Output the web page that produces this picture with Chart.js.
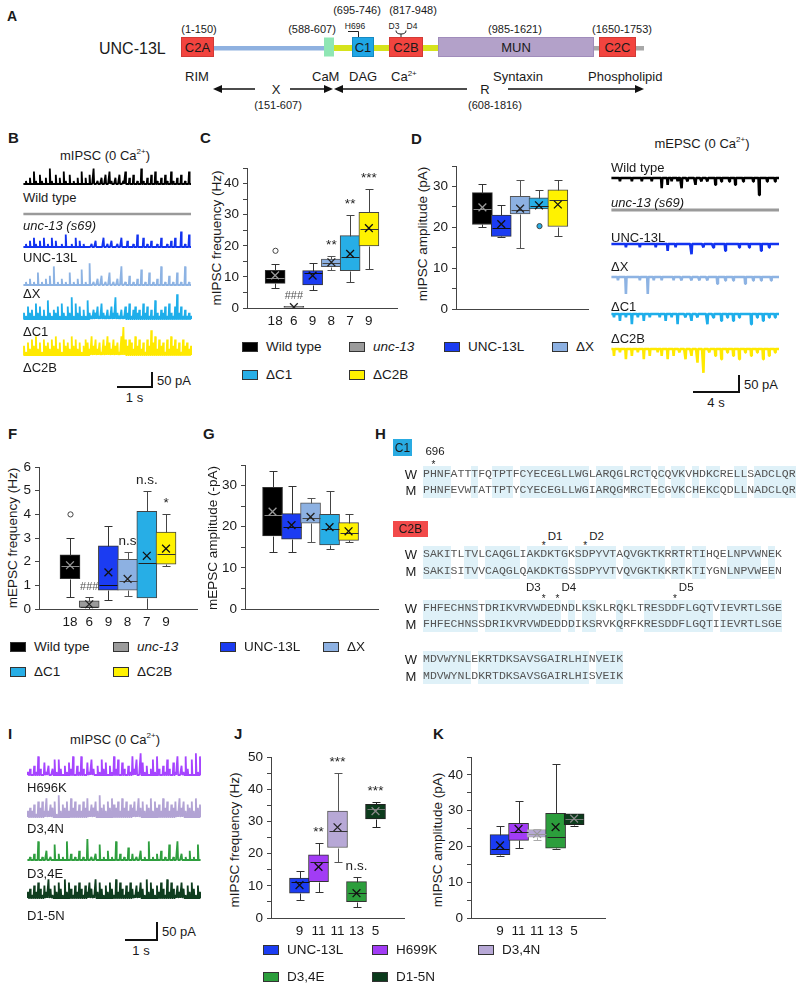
<!DOCTYPE html>
<html>
<head>
<meta charset="utf-8">
<script src="https://cdn.jsdelivr.net/npm/chart.js@4.4.0/dist/chart.umd.min.js"></script>
<style>
  body { margin: 0; width: 800px; height: 988px; position: relative; background: #fff; overflow: hidden;
         font-family: "Liberation Sans", Arial, sans-serif; color: #1a1a1a; }
  .t { position: absolute; white-space: nowrap; line-height: 1; }
  .r { position: absolute; box-sizing: border-box; }
  canvas { position: absolute; }
  .seq { font-family: "Liberation Mono", "DejaVu Sans Mono", monospace; font-size: 11.5px; color: #555; }
</style>
</head>
<body>
<svg width="800" height="115" style="position:absolute;left:0;top:0" font-family="Liberation Sans, Arial, sans-serif" fill="#1a1a1a">
  <text x="7" y="21" font-size="14" font-weight="bold">A</text>
  <text x="99" y="54" font-size="16">UNC-13L</text>
  <rect x="213" y="46" width="111" height="4.5" fill="#8fb1e0"/>
  <rect x="334" y="45" width="104" height="6" fill="#d6e31c"/>
  <rect x="593" y="46" width="51" height="4.5" fill="#a8a8a8"/>
  <rect x="181.5" y="37.5" width="32" height="19" fill="#f2443f" stroke="#d23a36"/>
  <rect x="324" y="37.5" width="10" height="19" fill="#8fe6b4"/>
  <rect x="352.5" y="37.5" width="21" height="19" fill="#1fa6e6" stroke="#168ac2"/>
  <rect x="389.5" y="37.5" width="33" height="19" fill="#f2443f" stroke="#d23a36"/>
  <rect x="438.5" y="37.5" width="155" height="19" fill="#b3a1c9" stroke="#a08cbb"/>
  <rect x="599.5" y="37.5" width="36" height="19" fill="#f2443f" stroke="#d23a36"/>
  <g font-size="13" text-anchor="middle">
    <text x="197.5" y="52">C2A</text><text x="363" y="52">C1</text><text x="406" y="52">C2B</text>
    <text x="516" y="52">MUN</text><text x="617.5" y="52">C2C</text>
  </g>
  <g font-size="11" text-anchor="middle">
    <text x="199" y="33">(1-150)</text><text x="312" y="33">(588-607)</text>
    <text x="357" y="14">(695-746)</text><text x="413" y="14">(817-948)</text>
    <text x="515" y="33">(985-1621)</text><text x="622" y="33">(1650-1753)</text>
    <text x="278" y="109">(151-607)</text><text x="495" y="109">(608-1816)</text>
  </g>
  <g font-size="8.5" text-anchor="middle">
    <text x="355" y="29">H696</text><text x="394" y="29">D3</text><text x="412" y="29">D4</text>
  </g>
  <g fill="none" stroke="#222" stroke-width="1">
    <path d="M348 31.5 H358.5 V37"/>
    <path d="M396 30.5 Q396 34 401 34 Q406 34 406 30.5 M401 34 V37"/>
  </g>
  <g font-size="13">
    <text x="185" y="81">RIM</text><text x="312" y="81">CaM</text><text x="349" y="81">DAG</text>
    <text x="391" y="81">Ca<tspan font-size="8" dy="-5">2+</tspan></text>
    <text x="493" y="81">Syntaxin</text><text x="588" y="81">Phospholipid</text>
  </g>
  <g font-size="13" text-anchor="middle">
    <text x="276" y="94">X</text><text x="485" y="94">R</text>
  </g>
  <g stroke="#111" stroke-width="1.6" fill="#111">
    <line x1="255" y1="89" x2="220" y2="89"/><path d="M213 89 L222 85 L222 93 Z" stroke="none"/>
    <line x1="290" y1="89" x2="326" y2="89"/><path d="M333 89 L324 85 L324 93 Z" stroke="none"/>
    <line x1="467" y1="89" x2="341" y2="89"/><path d="M334 89 L343 85 L343 93 Z" stroke="none"/>
    <line x1="508" y1="89" x2="637" y2="89"/><path d="M644 89 L635 85 L635 93 Z" stroke="none"/>
  </g>
</svg>
<script>
const FONT = '"Liberation Sans", Arial, sans-serif';
Chart.defaults.font.family = FONT;

// ---- colours of the genotypes ----
const COL = {
    wt: '#000000', unc: '#9b9b9b', l: '#1b3cf2', dx: '#8db1e2', dc1: '#27aee6', dc2b: '#fff200',
    h: '#a23cf5', n34: '#b7a8d6', e34: '#2c9e3c', n15: '#0c3b1c'
};

// ---- C: mIPSC frequency (Hz) ----
const nC = ['18', '6', '9', '8', '7', '9'];
const minC = [6.3, 0, 5.9, 12.1, 8.4, 12.5];
const q1C = [7.9, 0, 7.4, 13.3, 12.0, 20.0];
const medC = [9.6, 0.1, 11.4, 14.5, 16.4, 25.5];
const q3C = [12.1, 0.5, 12.0, 15.7, 23.3, 30.8];
const maxC = [14.3, 0.5, 14.4, 16.7, 30.0, 38.2];
const meanC = [10.5, 0.3, 10.4, 14.7, 17.4, 25.7];
const outC = [[18.4], [], [], [], [], []];
const sigC = ['', '###', '', '**', '**', '***'];

// ---- D: mIPSC amplitude (pA) ----
const nD = ['18', '9', '8', '7', '9'];
const minD = [20.2, 17.6, 15.0, 24.5, 18.0];
const q1D = [20.7, 17.8, 23.3, 24.5, 20.2];
const medD = [24.6, 19.8, 24.3, 25.3, 26.7];
const q3D = [28.5, 23.0, 27.6, 27.2, 29.2];
const maxD = [30.7, 25.5, 31.5, 29.2, 31.5];
const meanD = [24.9, 20.8, 24.6, 25.4, 25.6];
const outD = [[], [], [], [20.3], []];

// ---- F: mEPSC frequency (Hz) ----
const nF = ['18', '6', '9', '8', '7', '9'];
const minF = [0.5, 0, 0.4, 0.53, 0, 1.8];
const q1F = [1.28, 0.07, 0.8, 0.8, 0.47, 1.9];
const medF = [1.8, 0.1, 1.02, 1.18, 1.95, 2.33];
const q3F = [2.29, 0.35, 2.67, 2.1, 4.13, 3.25];
const maxF = [3.0, 0.5, 3.52, 2.4, 5.0, 4.0];
const meanF = [1.85, 0.2, 1.55, 1.27, 2.25, 2.55];
const outF = [[4.0], [], [], [], [], []];
const sigF = ['', '###', '', 'n.s', 'n.s.', '*'];

// ---- G: mEPSC amplitude (-pA) ----
const nG = ['18', '9', '8', '7', '9'];
const minG = [13.9, 13.9, 16.3, 14.5, 16.3];
const q1G = [17.8, 17.0, 20.9, 15.6, 16.7];
const medG = [22.8, 19.9, 22.1, 19.4, 18.6];
const q3G = [29.6, 23.2, 25.8, 23.0, 21.0];
const maxG = [33.5, 30.0, 27.1, 28.7, 23.0];
const meanG = [23.7, 20.4, 22.4, 19.9, 18.9];

// ---- J: mIPSC frequency (Hz), point mutants ----
const nJ = ['9', '11', '11', '13', '5'];
const minJ = [5.7, 8.1, 17.4, 3.3, 28.4];
const q1J = [7.7, 11.3, 21.9, 5.1, 30.8];
const medJ = [11.3, 17.5, 27.0, 7.9, 34.0];
const q3J = [12.4, 19.6, 33.2, 11.3, 35.3];
const maxJ = [14.6, 23.4, 45.1, 12.6, 36.0];
const meanJ = [10.2, 15.9, 28.2, 7.7, 33.2];
const sigJ = ['', '**', '***', 'n.s.', '***'];

// ---- K: mIPSC amplitude (pA), point mutants ----
const nK = ['9', '11', '11', '13', '5'];
const minK = [17.4, 19.7, 21.9, 19.3, 25.8];
const q1K = [17.7, 21.7, 22.6, 19.5, 26.1];
const medK = [19.3, 24.0, 23.5, 22.6, 27.8];
const q3K = [23.3, 26.5, 24.7, 29.3, 29.1];
const maxK = [25.8, 32.8, 25.0, 43.1, 29.1];
const meanK = [20.3, 24.9, 23.5, 25.4, 27.8];

// ---- traces: one digit per event = amplitude in 10 pA steps ----
const trWT = '0102041031020510302041030102040203050102030410203014020301051020304102031041020301040';
const trUnc = '0000000000000000000000000000000000000000000000000000000000000000000000000000000000000';
const trL = '0102031020301030200104001030201000102000301020010300200104003010200103001020300501040';
const trDX = '0102010401020306010201040102050107010203010401020601030102050104010206010301040106010';
const trDC1 = '2142315241316213241521427152413162132415213142721314251342315241316213241521482413121';
const trDC2B = '3142536241534253624153426352413542635241536425341695354263524153846253415263524153423';

const eWT = '0000100000100001000010000300201001030010002001001000200100010020001000010050001000100';
const eUnc = '0000000000000000000000000000000000000000000000000000000000000000000000000000000000000';
const eL = '0000000100000010000000100000200010000000300000100001000002000000100001000002000100000';
const eDX = '0001000500000010005001000100000100010000100010001000020001000100000200010001000010000';
const eDC1 = '0100200100300100200100001002001003000100200100003001000200100200100000300100200100100';
const eDC2B = '0200100300200100300200010200300200100300200400700100200300100200300100200100300200100';

const iH = '1203162041302515203142603162041520315240316250420316250741302516203152041603162050716';
const iN34 = '2324153526243517243526352425362435273425364352635243526352436253426352435263524352634';
const iE34 = '0102060103010502010602010301070102050103010602010402010301060102030105010602010301050';
const iN15 = '2314253142631425316253142531425316253142531625314253142531625314253162531425314253142';

// ---- sequences (panel H) ----
const c1W = 'PHNFATTTFQTPTFCYECEGLLWGLARQGLRCTQCQVKVHDKCRELLSADCLQR';
const c1M = 'PHNFEVWTATTPTYCYECEGLLWGIARQGMRCTECGVKCHEKCQDLLNADCLQR';
const c2aW = 'SAKITLTVLCAQGLIAKDKTGKSDPYVTAQVGKTKRRTRTIHQELNPVWNEK';
const c2aM = 'SAKISITVVCAQGLQAKDKTGSSDPYVTVQVGKTKKRTKTIYGNLNPVWEEN';
const c2bW = 'FHFECHNSTDRIKVRVWDEDNDLKSKLRQKLTRESDDFLGQTVIEVRTLSGE';
const c2bM = 'FHFECHNSSDRIKVRVWDEDDDIKSRVKQRFKRESDDFLGQTIIEVRTLSGE';
const c2cW = 'MDVWYNLEKRTDKSAVSGAIRLHINVEIK';
const c2cM = 'MDVWYNLDKRTDKSAVSGAIRLHISVEIK';

// ---------- helpers ----------
function txt(html, x, y, o = {}) {
    const d = document.createElement('div');
    d.className = 't' + (o.cls ? ' ' + o.cls : '');
    d.innerHTML = html;
    const ax = o.a === 'c' ? -50 : o.a === 'r' ? -100 : 0;
    d.style.left = x + 'px';
    d.style.top = y + 'px';
    if (o.s) d.style.fontSize = o.s + 'px';
    d.style.transform = o.rot ? 'translate(-50%,-50%) rotate(-90deg)' : `translate(${ax}%,-50%)`;
    if (o.css) d.style.cssText += o.css;
    document.body.appendChild(d);
}

function rect(x, y, w, h, css) {
    const d = document.createElement('div');
    d.className = 'r';
    d.style.cssText += `left:${x}px;top:${y}px;width:${w}px;height:${h}px;` + css;
    document.body.appendChild(d);
}

function canvasAt(x, y, w, h) {
    const cv = document.createElement('canvas');
    cv.width = w;
    cv.height = h;
    cv.style.left = x + 'px';
    cv.style.top = y + 'px';
    document.body.appendChild(cv);
    return cv;
}

function scaleBar(xv, yTop, yBot, xLeft, pa, t) {
    rect(xv - 0.7, yTop, 1.4, yBot - yTop, 'background:#111');
    rect(xLeft, yBot - 0.7, xv - xLeft + 0.7, 1.4, 'background:#111');
    txt(pa, xv + 5, (yTop + yBot) / 2, { s: 13 });
    txt(t, (xLeft + xv) / 2, yBot + 10, { s: 13, a: 'c' });
}

function legendItem(x, y, label, color, italic) {
    rect(x, y - 5, 16, 10, `background:${color};border:1px solid #333`);
    txt(label, x + 24, y, { s: 13.5, css: italic ? 'font-style:italic' : '' });
}

// ---------- trace panels ----------
// every sample becomes a narrow spike that starts and ends on the baseline
function trace(x, base, w, up, down, str, color, dir, lw, pxPerPa) {
    const cv = canvasAt(x, base - up, w, up + down);
    const pts = [];
    str.split('').forEach((c, i) => {
        const v = Number(c) * 10 * dir;
        pts.push({ x: i - 0.3, y: 0 }, { x: i, y: v }, { x: i + 0.3, y: 0 });
    });
    new Chart(cv, {
        type: 'line',
        data: { datasets: [{ data: pts, borderColor: color, borderWidth: lw, pointRadius: 0, tension: 0, borderJoinStyle: 'bevel' }] },
        options: {
            responsive: false, animation: false, events: [],
            layout: { padding: 0 },
            plugins: { legend: { display: false }, tooltip: { enabled: false } },
            scales: {
                x: { type: 'linear', display: false, min: -0.5, max: str.length - 0.5 },
                y: { display: false, min: -down / pxPerPa, max: up / pxPerPa }
            }
        }
    });
}

// ---------- box plot panels ----------
const PAD_T = 12, PAD_R = 10, YW = 42, XH = 28;

function boxChart(area, o) {
    const cv = canvasAt(area.l - YW, area.t - PAD_T, area.r - area.l + YW + PAD_R, area.b - area.t + PAD_T + XH);
    const pos = o.q1.map((_, i) => i + 1);

    const extras = {
        id: 'boxExtras',
        afterDatasetDraw(chart, args) {
            if (args.index !== 0) return;
            const { ctx, scales: { x, y } } = chart;
            const px = v => Math.round(y.getPixelForValue(v)) + 0.5;
            ctx.save();
            ctx.lineWidth = 1;
            pos.forEach((p, i) => {
                const cx = Math.round(x.getPixelForValue(p)) + 0.5;
                ctx.strokeStyle = o.edge[i];
                [[o.q3[i], o.max[i]], [o.q1[i], o.min[i]]].forEach(([a, b]) => {
                    if (Math.abs(a - b) < 1e-6) return;
                    ctx.beginPath();
                    ctx.moveTo(cx, px(a));
                    ctx.lineTo(cx, px(b));
                    ctx.moveTo(cx - 4, px(b));
                    ctx.lineTo(cx + 4, px(b));
                    ctx.stroke();
                });
                ctx.strokeStyle = o.medCol[i];
                ctx.beginPath();
                ctx.moveTo(cx - 9, px(o.med[i]));
                ctx.lineTo(cx + 9, px(o.med[i]));
                ctx.stroke();
                (o.out ? o.out[i] : []).forEach(v => {
                    ctx.beginPath();
                    ctx.arc(cx, y.getPixelForValue(v), 2.6, 0, Math.PI * 2);
                    ctx.fillStyle = o.fill[i] === COL.wt ? '#fff' : o.fill[i];
                    ctx.fill();
                    ctx.strokeStyle = '#444';
                    ctx.stroke();
                });
            });
            ctx.restore();
        },
        afterDraw(chart) {
            if (!o.sig) return;
            const { ctx, scales: { x, y } } = chart;
            ctx.save();
            ctx.textAlign = 'center';
            ctx.textBaseline = 'alphabetic';
            o.sig.forEach((s, i) => {
                if (!s) return;
                const top = Math.max(o.max[i], ...(o.out ? o.out[i] : []));
                const hash = s.startsWith('#');
                ctx.fillStyle = hash ? '#555' : '#222';
                ctx.font = `${hash ? 11 : 13.5}px ${FONT}`;
                ctx.fillText(s, x.getPixelForValue(pos[i]), y.getPixelForValue(top) - 7);
            });
            ctx.restore();
        }
    };

    new Chart(cv, {
        type: 'bar',
        data: {
            datasets: [
                {
                    type: 'bar', order: 2,
                    data: pos.map((p, i) => ({ x: p, y: [o.q1[i], o.q3[i]] })),
                    backgroundColor: o.fill, borderColor: o.edge, borderWidth: 1,
                    borderSkipped: false, barThickness: 20
                },
                {
                    type: 'scatter', order: 1,
                    data: pos.map((p, i) => ({ x: p, y: o.mean[i] })),
                    pointStyle: 'crossRot', pointRadius: 5.5, borderWidth: 1.3,
                    borderColor: o.markCol, backgroundColor: o.markCol
                }
            ]
        },
        options: {
            responsive: false, animation: false, events: [],
            layout: { padding: { top: PAD_T, right: PAD_R, left: 0, bottom: 0 } },
            plugins: { legend: { display: false }, tooltip: { enabled: false } },
            scales: {
                x: {
                    type: 'linear', min: o.xMin, max: o.xMax,
                    afterFit: s => { s.height = XH; },
                    grid: { display: false, drawTicks: false },
                    border: { color: '#444', width: 1 },
                    ticks: {
                        stepSize: 1, autoSkip: false, maxRotation: 0, padding: 5, color: '#1a1a1a',
                        font: { size: 13.5, family: FONT },
                        callback: v => o.n[v - 1] ?? ''
                    }
                },
                y: {
                    min: 0, max: o.yMax,
                    afterFit: s => { s.width = YW; },
                    grid: { drawOnChartArea: false, tickLength: 4, color: '#444' },
                    border: { color: '#444', width: 1 },
                    ticks: {
                        stepSize: o.step, autoSkip: false, padding: 4, color: '#1a1a1a',
                        font: { size: 13.5, family: FONT },
                        callback: v => (Math.abs(v / o.labelStep - Math.round(v / o.labelStep)) < 1e-6 ? v : '')
                    }
                }
            }
        },
        plugins: [extras]
    });
}

// styles by genotype for the six-group panels
const fill6 = [COL.wt, COL.unc, COL.l, COL.dx, COL.dc1, COL.dc2b];
const edge6 = ['#333', '#444', '#333', '#555', '#444', '#444'];
const med6 = ['#8a8a8a', '#333', '#111', '#444', '#222', '#333'];
const mark6 = ['#9a9a9a', '#222', '#111', '#222', '#111', '#111'];
const fill5 = fill6.filter((_, i) => i !== 1);
const edge5 = edge6.filter((_, i) => i !== 1);
const med5 = med6.filter((_, i) => i !== 1);
const mark5 = mark6.filter((_, i) => i !== 1);
const fillM = [COL.l, COL.h, COL.n34, COL.e34, COL.n15];

// ---------- panel letters ----------
[['B', 8, 137], ['C', 200, 137], ['D', 411, 138], ['F', 8, 433], ['G', 203, 433], ['H', 375, 433],
 ['I', 8, 733], ['J', 234, 733], ['K', 433, 733]].forEach(([l, x, y]) => txt(l, x, y, { s: 15, css: 'font-weight:bold' }));

// ---------- B ----------
txt('mIPSC (0 Ca<sup style="font-size:8px">2+</sup>)', 105, 155, { s: 13, a: 'c' });
trace(23, 184, 169, 17, 3, trWT, '#000', 1, 1.8, 0.31);
trace(23, 214, 169, 4, 3, trUnc, '#9a9a9a', 1, 2.6, 0.31);
trace(23, 247, 169, 17, 3, trL, '#1233f0', 1, 1.8, 0.31);
trace(23, 285, 169, 25, 3, trDX, '#8db3e3', 1, 1.8, 0.31);
trace(23, 319, 169, 28, 3, trDC1, '#1eaeea', 1, 1.8, 0.31);
trace(23, 355, 169, 30, 3, trDC2B, '#ffe900', 1, 1.8, 0.31);
txt('Wild type', 23, 197, { s: 13 });
txt('unc-13 (s69)', 23, 225, { s: 13, css: 'font-style:italic' });
txt('UNC-13L', 23, 257, { s: 13 });
txt('ΔX', 23, 293, { s: 13 });
txt('ΔC1', 23, 331, { s: 13 });
txt('ΔC2B', 23, 367, { s: 13 });
scaleBar(152, 372, 387, 117, '50 pA', '1 s');

// ---------- C ----------
txt('mIPSC frequency (Hz)', 217, 238, { s: 13.5, rot: true });
boxChart({ l: 247, r: 397, t: 168.4, b: 309 }, {
    n: nC, min: minC, q1: q1C, med: medC, q3: q3C, max: maxC, mean: meanC, out: outC, sig: sigC,
    xMin: 0, xMax: 7, yMax: 45, step: 5, labelStep: 10,
    fill: fill6, edge: edge6, medCol: med6, markCol: mark6
});

// ---------- D ----------
txt('mIPSC amplitude (pA)', 423, 234, { s: 13.5, rot: true });
boxChart({ l: 456, r: 588, t: 165.5, b: 309 }, {
    n: nD, min: minD, q1: q1D, med: medD, q3: q3D, max: maxD, mean: meanD, out: outD,
    xMin: 0.1, xMax: 6.1, yMax: 35, step: 5, labelStep: 10,
    fill: fill5, edge: edge5, medCol: med5, markCol: mark5
});

// legend B-D
legendItem(242, 347, 'Wild type', COL.wt);
legendItem(349, 347, 'unc-13', COL.unc, true);
legendItem(444, 347, 'UNC-13L', COL.l);
legendItem(552, 347, 'ΔX', COL.dx);
legendItem(242, 375, 'ΔC1', COL.dc1);
legendItem(349, 375, 'ΔC2B', COL.dc2b);

// ---------- E (mEPSC traces) ----------
txt('mEPSC (0 Ca<sup style="font-size:8px">2+</sup>)', 702, 143, { s: 13, a: 'c' });
trace(611, 178, 169, 5, 20, eWT, '#000', -1, 2.6, 0.34);
trace(611, 210, 169, 5, 5, eUnc, '#9a9a9a', -1, 3.2, 0.34);
trace(611, 244, 169, 5, 12, eL, '#1233f0', -1, 2.6, 0.34);
trace(611, 277, 169, 5, 21, eDX, '#8db3e3', -1, 2.6, 0.34);
trace(611, 314, 169, 5, 14, eDC1, '#1eaeea', -1, 2.6, 0.34);
trace(611, 349, 169, 5, 26, eDC2B, '#ffe900', -1, 2.6, 0.34);
txt('Wild type', 611, 167, { s: 13 });
txt('unc-13 (s69)', 611, 202, { s: 13, css: 'font-style:italic' });
txt('UNC-13L', 611, 237, { s: 13 });
txt('ΔX', 611, 266, { s: 13 });
txt('ΔC1', 611, 306, { s: 13 });
txt('ΔC2B', 611, 338, { s: 13 });
scaleBar(739, 375, 392, 693, '50 pA', '4 s');

// ---------- F ----------
txt('mEPSC frequency (Hz)', 13, 538, { s: 13.5, rot: true });
boxChart({ l: 39, r: 197, t: 467, b: 609.5 }, {
    n: nF, min: minF, q1: q1F, med: medF, q3: q3F, max: maxF, mean: meanF, out: outF, sig: sigF,
    xMin: -0.1, xMax: 7.1, yMax: 6, step: 1, labelStep: 1,
    fill: fill6, edge: edge6, medCol: med6, markCol: mark6
});

// ---------- G ----------
txt('mEPSC amplitude (-pA)', 213, 538, { s: 13.5, rot: true });
boxChart({ l: 245, r: 378, t: 465.3, b: 610 }, {
    n: nG, min: minG, q1: q1G, med: medG, q3: q3G, max: maxG, mean: meanG,
    xMin: 0.05, xMax: 6.05, yMax: 35, step: 5, labelStep: 10,
    fill: fill5, edge: edge5, medCol: med5, markCol: mark5
});

// legend F-G
legendItem(10, 647, 'Wild type', COL.wt);
legendItem(113, 647, 'unc-13', COL.unc, true);
legendItem(220, 647, 'UNC-13L', COL.l);
legendItem(323, 647, 'ΔX', COL.dx);
legendItem(10, 672, 'ΔC1', COL.dc1);
legendItem(113, 672, 'ΔC2B', COL.dc2b);

// ---------- H (sequences) ----------
const CW = 6.9, SX = 423;
function seqBlock(yW, yM, w, m) {
    for (let i = 0; i < w.length; i++) {
        if (w[i] === m[i]) rect(SX + i * CW, yW - 8, CW + 0.2, yM - yW + 16, 'background:#dff1f8');
    }
    txt('W', 411, yW, { s: 13, a: 'c' });
    txt('M', 411, yM, { s: 13, a: 'c' });
    txt(w, SX, yW, { cls: 'seq' });
    txt(m, SX, yM, { cls: 'seq' });
}
function star(idx, y) {
    txt('*', SX + (idx + 0.5) * CW, y + 3, { s: 10, a: 'c' });
}
rect(393, 439, 19, 17, 'background:#29abe2');
txt('C1', 402.5, 447.5, { s: 12, a: 'c' });
txt('696', 435, 452, { s: 11.5, a: 'c' });
star(1, 462);
seqBlock(474, 490, c1W, c1M);

rect(393, 521, 35, 16, 'background:#f24a4a');
txt('C2B', 410.5, 529, { s: 12, a: 'c' });
star(17, 543); txt('D1', SX + 17.5 * CW + 4, 537, { s: 11.5 });
star(23, 543); txt('D2', SX + 23.5 * CW + 4, 537, { s: 11.5 });
seqBlock(554, 571, c2aW, c2aM);

star(17, 596); txt('D3', SX + 17.5 * CW - 3, 588, { s: 11.5, a: 'r' });
star(19, 596); txt('D4', SX + 19.5 * CW + 4, 588, { s: 11.5 });
star(36, 596); txt('D5', SX + 36.5 * CW + 4, 588, { s: 11.5 });
seqBlock(608, 624, c2bW, c2bM);
seqBlock(659, 676, c2cW, c2cM);

// ---------- I ----------
txt('mIPSC (0 Ca<sup style="font-size:8px">2+</sup>)', 115, 739, { s: 13, a: 'c' });
trace(27, 775, 174, 24, 3, iH, '#a645ff', 1, 1.8, 0.31);
trace(27, 817, 174, 23, 3, iN34, '#b2a3d4', 1, 1.8, 0.31);
trace(27, 860, 174, 21, 3, iE34, '#2e9e3e', 1, 1.8, 0.31);
trace(27, 898, 174, 20, 3, iN15, '#0f3d1f', 1, 1.8, 0.31);
txt('H696K', 27, 787, { s: 13 });
txt('D3,4N', 27, 828, { s: 13 });
txt('D3,4E', 27, 873, { s: 13 });
txt('D1-5N', 27, 915, { s: 13 });
scaleBar(157, 922, 940, 125, '50 pA', '1 s');

// ---------- J ----------
txt('mIPSC frequency (Hz)', 235, 840, { s: 13.5, rot: true });
boxChart({ l: 271, r: 404, t: 757.3, b: 919 }, {
    n: nJ, min: minJ, q1: q1J, med: medJ, q3: q3J, max: maxJ, mean: meanJ, sig: sigJ,
    xMin: 0, xMax: 6, yMax: 50, step: 5, labelStep: 10,
    fill: fillM, edge: ['#333', '#333', '#555', '#333', '#222'],
    medCol: ['#111', '#222', '#333', '#222', '#777'], markCol: ['#111', '#111', '#222', '#111', '#888']
});

// ---------- K ----------
txt('mIPSC amplitude (pA)', 438, 840, { s: 13.5, rot: true });
boxChart({ l: 471, r: 605, t: 757, b: 918 }, {
    n: nK, min: minK, q1: q1K, med: medK, q3: q3K, max: maxK, mean: meanK,
    xMin: -0.05, xMax: 6.15, yMax: 45, step: 5, labelStep: 10,
    fill: fillM, edge: ['#333', '#333', '#aaa', '#333', '#222'],
    medCol: ['#111', '#222', '#999', '#222', '#777'], markCol: ['#111', '#111', '#999', '#111', '#888']
});

// legend J-K
legendItem(263, 950, 'UNC-13L', COL.l);
legendItem(372, 950, 'H699K', COL.h);
legendItem(478, 950, 'D3,4N', COL.n34);
legendItem(263, 977, 'D3,4E', COL.e34);
legendItem(372, 977, 'D1-5N', COL.n15);
</script>
</body>
</html>
